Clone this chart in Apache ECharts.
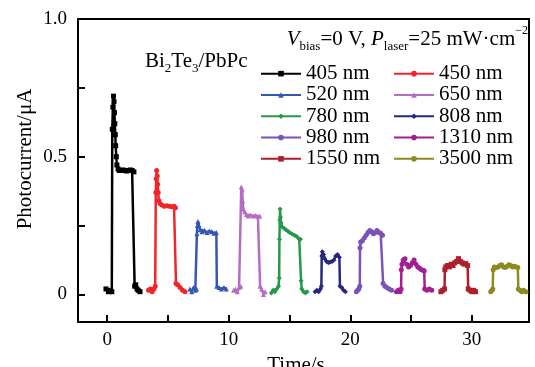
<!DOCTYPE html>
<html>
<head>
<meta charset="utf-8">
<script src="https://cdn.jsdelivr.net/npm/echarts@6/dist/echarts.min.js"></script>
<style>
  html, body { margin: 0; padding: 0; background: #fff; }
  #chart { width: 535px; height: 367px; }
</style>
</head>
<body>
<div id="chart"></div>
<script>
// Photocurrent response (µA) versus time (s) for each excitation wavelength
const wavelengths = ['405 nm', '450 nm', '520 nm', '650 nm', '780 nm', '808 nm', '980 nm', '1310 nm', '1550 nm', '3500 nm'];

const trace405 = [[-0.1,0.02],[0.1,0.01],[0.25,0.015],[0.38,0.01],[0.42,0.6],[0.47,0.68],[0.52,0.72],[0.56,0.7],[0.6,0.66],[0.63,0.62],[0.67,0.58],[0.7,0.54],[0.75,0.5],[0.8,0.47],[0.9,0.455],[1.0,0.45],[1.15,0.45],[1.3,0.452],[1.45,0.45],[1.6,0.448],[1.75,0.45],[1.9,0.452],[2.05,0.45],[2.2,0.445],[2.26,0.03],[2.35,0.035],[2.45,0.02],[2.55,0.015],[2.7,0.01]];
const trace450 = [[3.4,0.015],[3.55,0.02],[3.7,0.01],[3.85,0.02],[3.95,0.03],[4.0,0.37],[4.03,0.42],[4.07,0.45],[4.12,0.43],[4.15,0.4],[4.2,0.37],[4.25,0.34],[4.35,0.33],[4.5,0.325],[4.7,0.32],[4.9,0.322],[5.1,0.32],[5.3,0.318],[5.5,0.32],[5.62,0.315],[5.66,0.04],[5.8,0.035],[6.0,0.025],[6.2,0.015],[6.4,0.01]];
const trace520 = [[6.8,0.02],[6.95,0.01],[7.1,0.025],[7.25,0.015],[7.35,0.02],[7.38,0.22],[7.42,0.25],[7.47,0.265],[7.55,0.25],[7.65,0.235],[7.8,0.228],[8.0,0.232],[8.2,0.225],[8.4,0.23],[8.6,0.228],[8.8,0.222],[8.98,0.225],[9.02,0.03],[9.2,0.025],[9.4,0.02],[9.6,0.025],[9.8,0.02]];
const trace650 = [[10.4,0.015],[10.55,0.02],[10.7,0.01],[10.85,0.025],[11.0,0.03],[11.03,0.39],[11.1,0.38],[11.15,0.34],[11.2,0.31],[11.3,0.3],[11.45,0.29],[11.6,0.285],[11.8,0.288],[12.0,0.285],[12.2,0.287],[12.4,0.283],[12.55,0.285],[12.58,0.03],[12.7,0.02],[12.85,0.0],[13.0,0.01]];
const trace780 = [[13.5,0.005],[13.65,0.015],[13.8,0.01],[13.95,0.02],[14.1,0.03],[14.15,0.06],[14.17,0.2],[14.2,0.27],[14.22,0.31],[14.26,0.28],[14.3,0.26],[14.4,0.245],[14.55,0.24],[14.7,0.235],[14.85,0.23],[15.0,0.225],[15.2,0.22],[15.4,0.215],[15.6,0.21],[15.8,0.2],[15.9,0.2],[15.95,0.05],[16.0,0.02],[16.15,0.01],[16.3,0.005],[16.45,0.01]];
const trace808 = [[17.1,0.01],[17.25,0.015],[17.4,0.01],[17.55,0.02],[17.62,0.03],[17.65,0.14],[17.7,0.155],[17.8,0.145],[17.9,0.13],[18.05,0.12],[18.2,0.115],[18.35,0.118],[18.5,0.12],[18.65,0.125],[18.8,0.14],[18.95,0.145],[19.1,0.135],[19.15,0.03],[19.3,0.025],[19.45,0.015],[19.6,0.01]];
const trace980 = [[20.5,0.01],[20.6,0.015],[20.7,0.02],[20.78,0.03],[20.8,0.17],[20.85,0.19],[21.0,0.195],[21.15,0.205],[21.3,0.215],[21.45,0.225],[21.6,0.232],[21.75,0.228],[21.9,0.22],[22.05,0.225],[22.2,0.232],[22.35,0.225],[22.5,0.222],[22.65,0.215],[22.7,0.04],[22.85,0.03],[23.0,0.025],[23.2,0.02],[23.4,0.015]];
const trace1310 = [[23.8,0.01],[23.95,0.015],[24.1,0.01],[24.18,0.02],[24.2,0.09],[24.25,0.11],[24.35,0.125],[24.5,0.13],[24.65,0.11],[24.8,0.1],[24.95,0.105],[25.1,0.115],[25.25,0.125],[25.4,0.11],[25.55,0.1],[25.7,0.095],[25.85,0.09],[26.0,0.088],[26.08,0.085],[26.12,0.02],[26.3,0.015],[26.5,0.02],[26.7,0.015]];
const trace1550 = [[27.45,0.01],[27.6,0.015],[27.75,0.02],[27.78,0.09],[27.85,0.1],[28.0,0.105],[28.15,0.1],[28.3,0.11],[28.45,0.105],[28.6,0.115],[28.75,0.12],[28.9,0.13],[29.05,0.12],[29.2,0.115],[29.35,0.11],[29.5,0.112],[29.65,0.105],[29.7,0.02],[29.85,0.015],[30.0,0.01],[30.15,0.015],[30.3,0.01]];
const trace3500 = [[31.55,0.01],[31.65,0.015],[31.72,0.02],[31.75,0.09],[31.85,0.1],[32.0,0.098],[32.15,0.1],[32.3,0.105],[32.45,0.108],[32.6,0.1],[32.75,0.098],[32.9,0.102],[33.05,0.108],[33.2,0.105],[33.35,0.1],[33.5,0.102],[33.65,0.1],[33.78,0.098],[33.82,0.02],[33.95,0.015],[34.1,0.01],[34.25,0.015],[34.45,0.01]];

const traces = [trace405, trace450, trace520, trace650, trace780, trace808, trace980, trace1310, trace1550, trace3500];

const xRange = [-2.4, 34.7];
const yRange = [-0.1, 1.0];
const xTicks = [0, 5, 10, 15, 20, 25, 30];
const xTickLabels = [0, 10, 20, 30];
const yTicks = [0, 0.25, 0.5, 0.75, 1.0];
const yTickLabels = [0, 0.5, 1.0];

// Styling
const colors = ['#000000', '#f2262a', '#3557b4', '#b56cc4', '#27984a', '#27277f', '#7a52b8', '#a11f93', '#ad1f2c', '#8b8b22'];
const symbols = ['rect', 'circle', 'triangle', 'triangle', 'diamond', 'diamond', 'circle', 'circle', 'rect', 'circle'];
const serif = '"Liberation Serif", "Times New Roman", serif';
const tickLen = 7;

const chart = echarts.init(document.getElementById('chart'), null, { renderer: 'canvas' });

const series = wavelengths.map((name, i) => ({
  name: name,
  type: 'line',
  data: traces[i],
  symbol: symbols[i],
  symbolSize: 5,
  showSymbol: true,
  color: colors[i],
  lineStyle: { width: 2.5, color: colors[i] },
  itemStyle: { color: colors[i] },
  emphasis: { disabled: true },
  animation: false
}));

const legendText = { fontFamily: serif, fontSize: 21, color: '#000', lineHeight: 21.3 };
const frameLine = () => ({ show: true, onZero: false, lineStyle: { color: '#000', width: 2 } });

chart.setOption({
  animation: false,
  grid: { left: 78, right: 6, top: 19, bottom: 45 },
  xAxis: [
    {
      type: 'value',
      min: xRange[0], max: xRange[1],
      axisLine: frameLine(),
      axisTick: { show: true, inside: true, length: tickLen, customValues: xTicks, lineStyle: { color: '#000', width: 2 } },
      axisLabel: { customValues: xTickLabels, fontFamily: serif, fontSize: 19, color: '#000', margin: 9 },
      splitLine: { show: false }
    },
    {
      // top edge of the frame
      type: 'value', position: 'top',
      min: xRange[0], max: xRange[1],
      axisLine: frameLine(),
      axisTick: { show: false }, axisLabel: { show: false }, splitLine: { show: false }
    }
  ],
  yAxis: [
    {
      type: 'value',
      min: yRange[0], max: yRange[1],
      axisLine: frameLine(),
      axisTick: { show: true, inside: true, length: tickLen, customValues: yTicks, lineStyle: { color: '#000', width: 2 } },
      axisLabel: {
        customValues: yTickLabels, fontFamily: serif, fontSize: 19, color: '#000', margin: 11,
        formatter: v => (v === 0 ? '0' : v.toFixed(1))
      },
      splitLine: { show: false }
    },
    {
      // right edge of the frame
      type: 'value', position: 'right',
      min: yRange[0], max: yRange[1],
      axisLine: frameLine(),
      axisTick: { show: false }, axisLabel: { show: false }, splitLine: { show: false }
    }
  ],
  legend: [
    {
      orient: 'vertical', left: 260, top: 63, padding: 0, itemWidth: 40, itemHeight: 7, itemGap: 0,
      data: [wavelengths[0], wavelengths[2], wavelengths[4], wavelengths[6], wavelengths[8]],
      textStyle: legendText
    },
    {
      orient: 'vertical', left: 393, top: 63, padding: 0, itemWidth: 40, itemHeight: 7, itemGap: 0,
      data: [wavelengths[1], wavelengths[3], wavelengths[5], wavelengths[7], wavelengths[9]],
      textStyle: legendText
    }
  ],
  graphic: [
    {
      type: 'text', left: 145, top: 51,
      style: {
        text: '{m|Bi}{s|2}{m|Te}{s|3}{m|/PbPc}',
        rich: {
          m: { fontFamily: serif, fontSize: 21, color: '#000', lineHeight: 28, verticalAlign: 'middle' },
          s: { fontFamily: serif, fontSize: 13, color: '#000', lineHeight: 13, verticalAlign: 'bottom' }
        }
      }
    },
    {
      type: 'text', right: 7, top: 25,
      style: {
        text: '{i|V}{s|bias}{m|=0 V, }{i|P}{s|laser}{m|=25 mW·cm}{p|−2}',
        rich: {
          m: { fontFamily: serif, fontSize: 21, color: '#000', lineHeight: 28, verticalAlign: 'middle' },
          i: { fontFamily: serif, fontSize: 21, fontStyle: 'italic', color: '#000', lineHeight: 28, verticalAlign: 'middle' },
          s: { fontFamily: serif, fontSize: 13, color: '#000', lineHeight: 12, verticalAlign: 'bottom' },
          p: { fontFamily: serif, fontSize: 12, color: '#000', lineHeight: 16, verticalAlign: 'top' }
        }
      }
    },
    {
      type: 'text', x: 25, y: 159, rotation: Math.PI / 2,
      style: {
        text: 'Photocurrent/μA', fontFamily: serif, fontSize: 21, fill: '#000',
        textAlign: 'center', textVerticalAlign: 'middle'
      }
    },
    {
      type: 'text', x: 296, y: 355,
      style: {
        text: 'Time/s', fontFamily: serif, fontSize: 21, fill: '#000',
        textAlign: 'center', textVerticalAlign: 'top'
      }
    }
  ],
  series: series
});
</script>
</body>
</html>
